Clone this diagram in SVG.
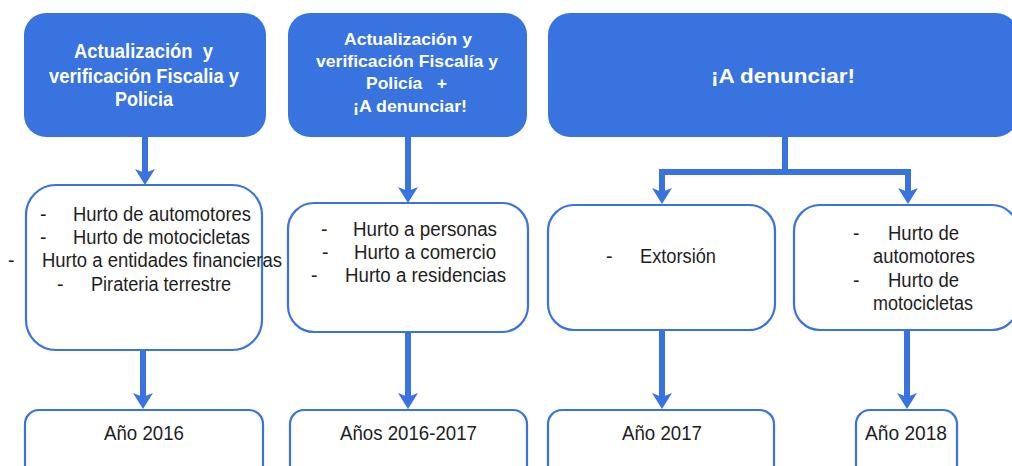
<svg xmlns="http://www.w3.org/2000/svg" width="1012" height="466" viewBox="0 0 1012 466">
<style>
.head{fill:#3873DF;}
.box{fill:#fff;stroke:#3873DF;stroke-width:2.2;}
.ht{font-family:"Liberation Sans",Arial,sans-serif;font-weight:bold;fill:#fff;white-space:pre;}
.t{font-family:"Liberation Sans",Arial,sans-serif;font-size:19.5px;fill:#1e1e1e;white-space:pre;}
.c{fill:none;stroke:#3873DF;stroke-width:6;}
</style>
<defs>
<marker id="ah" markerUnits="userSpaceOnUse" markerWidth="16" markerHeight="20" viewBox="0 0 16 20" refX="4" refY="10" orient="auto">
<path d="M0,0 L16,10 L0,20 L4,10 Z" fill="#3873DF"/>
</marker>
</defs>
<rect width="1012" height="466" fill="#fff"/>

<g id="connectors">
<line class="c" x1="145" y1="136" x2="145" y2="173" marker-end="url(#ah)"/>
<line class="c" x1="143" y1="349" x2="143" y2="397" marker-end="url(#ah)"/>
<line class="c" x1="408" y1="136" x2="408" y2="191" marker-end="url(#ah)"/>
<line class="c" x1="408" y1="331" x2="408" y2="397" marker-end="url(#ah)"/>
<path class="c" d="M785,136 V172 H662 V192" marker-end="url(#ah)"/>
<path class="c" d="M785,172 H908 V192" marker-end="url(#ah)"/>
<line class="c" x1="662" y1="329" x2="662" y2="397" marker-end="url(#ah)"/>
<line class="c" x1="907" y1="329" x2="907" y2="397" marker-end="url(#ah)"/>
</g>

<g id="head1">
<rect class="head" x="24" y="13" width="242" height="124" rx="22"/>
<text class="ht" font-size="20" x="74" y="58" textLength="139" lengthAdjust="spacingAndGlyphs">Actualización  y</text>
<text class="ht" font-size="20" x="49" y="83" textLength="190" lengthAdjust="spacingAndGlyphs">verificación Fiscalia y</text>
<text class="ht" font-size="20" x="115" y="106" textLength="58" lengthAdjust="spacingAndGlyphs">Policia</text>
</g>

<g id="head2">
<rect class="head" x="288" y="13" width="239" height="124" rx="22"/>
<text class="ht" font-size="17" x="344" y="45" textLength="128" lengthAdjust="spacingAndGlyphs">Actualización y</text>
<text class="ht" font-size="17" x="316" y="67" textLength="182" lengthAdjust="spacingAndGlyphs">verificación Fiscalía y</text>
<text class="ht" font-size="17" x="366" y="89" textLength="81" lengthAdjust="spacingAndGlyphs">Policía   +</text>
<text class="ht" font-size="17" x="353" y="112" textLength="114" lengthAdjust="spacingAndGlyphs">¡A denunciar!</text>
</g>

<g id="head3">
<rect class="head" x="548" y="13" width="470" height="124" rx="22"/>
<text class="ht" font-size="21" x="711" y="83" textLength="144" lengthAdjust="spacingAndGlyphs">¡A denunciar!</text>
</g>

<g id="list1">
<rect class="box" x="26" y="185" width="236" height="165" rx="30"/>
<text class="t" x="40" y="221">-</text>
<text class="t" x="73" y="221" textLength="178" lengthAdjust="spacingAndGlyphs">Hurto de automotores</text>
<text class="t" x="40" y="244">-</text>
<text class="t" x="73" y="244" textLength="177" lengthAdjust="spacingAndGlyphs">Hurto de motocicletas</text>
<text class="t" x="8" y="267">-</text>
<text class="t" x="42" y="267" textLength="240" lengthAdjust="spacingAndGlyphs">Hurto a entidades financieras</text>
<text class="t" x="57" y="291">-</text>
<text class="t" x="91" y="291" textLength="140" lengthAdjust="spacingAndGlyphs">Pirateria terrestre</text>
</g>

<g id="list2">
<rect class="box" x="288" y="203" width="240" height="129" rx="26"/>
<text class="t" x="321" y="236">-</text>
<text class="t" x="353" y="236" textLength="144" lengthAdjust="spacingAndGlyphs">Hurto a personas</text>
<text class="t" x="322" y="259">-</text>
<text class="t" x="354" y="259" textLength="142" lengthAdjust="spacingAndGlyphs">Hurto a comercio</text>
<text class="t" x="311" y="282">-</text>
<text class="t" x="345" y="282" textLength="161" lengthAdjust="spacingAndGlyphs">Hurto a residencias</text>
</g>

<g id="list3">
<rect class="box" x="548" y="205" width="227" height="125" rx="26"/>
<text class="t" x="606" y="263">-</text>
<text class="t" x="640" y="263" textLength="76" lengthAdjust="spacingAndGlyphs">Extorsión</text>
</g>

<g id="list4">
<rect class="box" x="794" y="205" width="224" height="125" rx="26"/>
<text class="t" x="853" y="240">-</text>
<text class="t" x="888" y="240" textLength="71" lengthAdjust="spacingAndGlyphs">Hurto de</text>
<text class="t" x="873" y="263" textLength="102" lengthAdjust="spacingAndGlyphs">automotores</text>
<text class="t" x="853" y="287">-</text>
<text class="t" x="888" y="287" textLength="71" lengthAdjust="spacingAndGlyphs">Hurto de</text>
<text class="t" x="873" y="310" textLength="100" lengthAdjust="spacingAndGlyphs">motocicletas</text>
</g>

<g id="year1">
<rect class="box" x="25" y="410" width="238" height="80" rx="14"/>
<text class="t" x="104" y="440" textLength="80" lengthAdjust="spacingAndGlyphs">Año 2016</text>
</g>
<g id="year2">
<rect class="box" x="290" y="410" width="237" height="80" rx="14"/>
<text class="t" x="340" y="440" textLength="137" lengthAdjust="spacingAndGlyphs">Años 2016-2017</text>
</g>
<g id="year3">
<rect class="box" x="548" y="410" width="226" height="80" rx="14"/>
<text class="t" x="622" y="440" textLength="80" lengthAdjust="spacingAndGlyphs">Año 2017</text>
</g>
<g id="year4">
<rect class="box" x="856" y="410" width="101" height="80" rx="14"/>
<text class="t" x="865" y="440" textLength="82" lengthAdjust="spacingAndGlyphs">Año 2018</text>
</g>
</svg>
